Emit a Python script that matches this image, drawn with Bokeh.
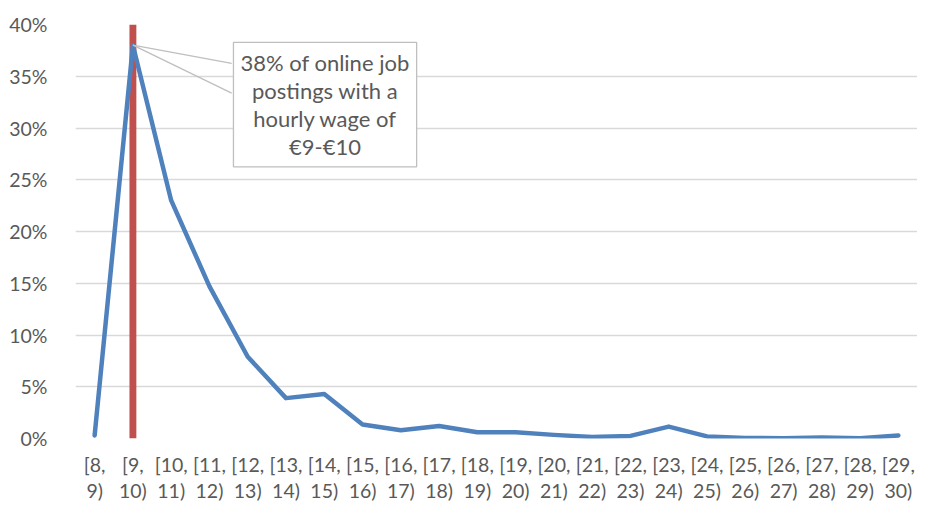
from bokeh.plotting import figure
from bokeh.models import ColumnDataSource, FactorRange, Range1d, NumeralTickFormatter, Label, FixedTicker
from bokeh.embed import file_html
from bokeh.resources import INLINE

lows = list(range(8, 30))
categories = [f"[{a},\n{a+1})" for a in lows]
shares = [0.003, 0.380, 0.230, 0.147, 0.079, 0.039, 0.043, 0.0135, 0.008, 0.012,
          0.006, 0.006, 0.0035, 0.0015, 0.0025, 0.0115, 0.002, 0.0005, 0.0003, 0.001,
          0.0003, 0.003]
marker_category = categories[1]
marker_top = 0.40
y_ticks = [0.0, 0.05, 0.10, 0.15, 0.20, 0.25, 0.30, 0.35, 0.40]
note_text = "38% of online job\npostings with a\nhourly wage of\n€9-€10"

FONT = "Lato"
GREY = "#595959"

p = figure(width=917, height=504, output_backend="svg", toolbar_location=None,
           x_range=FactorRange(*categories, range_padding=0),
           y_range=Range1d(0, 0.40),
           min_border_left=75, min_border_right=0, min_border_top=24, min_border_bottom=0)
p.outline_line_color = None
p.background_fill_color = "white"

src = ColumnDataSource(dict(x=categories, y=shares))

# red marker bar
p.vbar(x=[marker_category], top=[marker_top], bottom=0, width=0.18,
       fill_color="#C0504D", line_color=None)

p.line("x", "y", source=src, line_color="#4F81BD", line_width=4.5,
       line_cap="round", line_join="round")

# leader lines from peak to annotation box
p.segment(x0=[marker_category, marker_category], y0=[shares[1], shares[1]],
          x1=[4.08, 4.08], y1=[0.3625, 0.3337], line_color="#BFBFBF", line_width=1.3)

lab = Label(x=6.52, y=0.3226, text=note_text, text_align="center", text_baseline="middle",
            text_font=FONT, text_font_size="22px", text_color=GREY, text_line_height=1.03,
            background_fill_color="white", border_line_color="#BFBFBF", border_line_width=1.3,
            padding=7)
p.add_layout(lab)

p.yaxis.ticker = FixedTicker(ticks=y_ticks)
p.yaxis.formatter = NumeralTickFormatter(format="0%")
for ax in (p.xaxis[0], p.yaxis[0]):
    ax.axis_line_color = None
    ax.major_tick_line_color = None
    ax.minor_tick_line_color = None
    ax.major_label_text_font = FONT
    ax.major_label_text_font_size = "19.5px"
    ax.major_label_text_color = GREY
p.xaxis.major_label_text_line_height = 1.15
p.yaxis.major_label_standoff = 22
p.xaxis.major_label_standoff = 8
p.xgrid.grid_line_color = None
p.ygrid.grid_line_color = "#D9D9D9"
p.ygrid.grid_line_width = 1.5
p.ygrid.ticker = FixedTicker(ticks=y_ticks)

open("out.html", "w").write(file_html(p, INLINE))
